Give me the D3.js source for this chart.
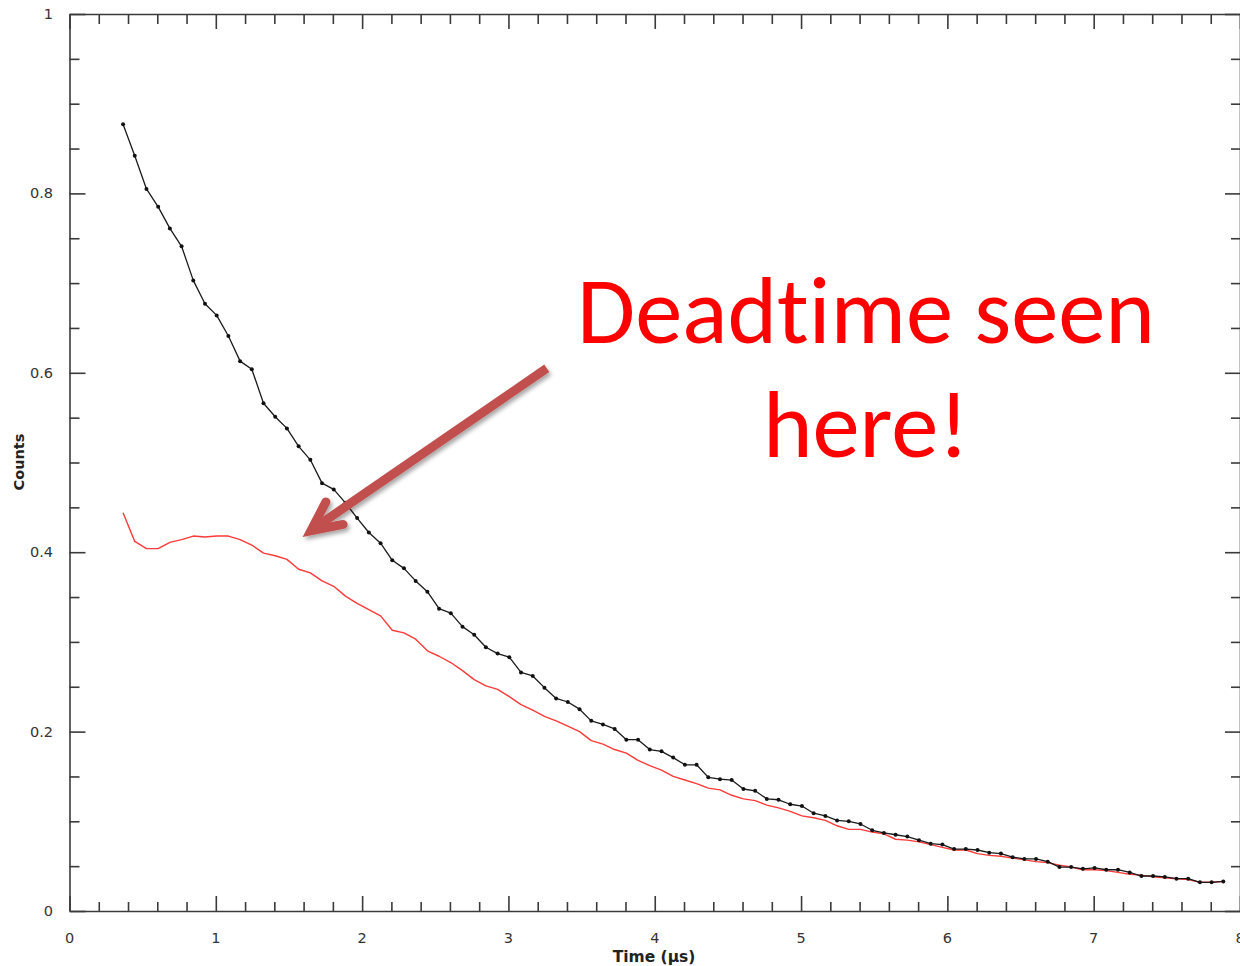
<!DOCTYPE html>
<html>
<head>
<meta charset="utf-8">
<script src="https://cdn.jsdelivr.net/npm/d3@7"></script>
<style>
  html, body { margin: 0; padding: 0; background: #fff; overflow: hidden; }
  svg { display: block; }
  text { font-variant-ligatures: none; font-feature-settings: "liga" 0, "clig" 0; }
</style>
</head>
<body>
<svg id="chart" width="1240" height="966"></svg>
<script>
// ---------------- DATA ----------------
const timeUs = [
  0.366, 0.446, 0.526, 0.606, 0.686, 0.766, 0.846, 0.926, 1.006, 1.086,
  1.166, 1.246, 1.326, 1.406, 1.486, 1.566, 1.646, 1.726, 1.806, 1.886,
  1.966, 2.046, 2.126, 2.206, 2.286, 2.366, 2.446, 2.526, 2.606, 2.686,
  2.766, 2.846, 2.926, 3.006, 3.086, 3.166, 3.246, 3.326, 3.406, 3.486,
  3.566, 3.646, 3.726, 3.806, 3.886, 3.966, 4.046, 4.126, 4.206, 4.286,
  4.366, 4.446, 4.526, 4.606, 4.686, 4.766, 4.846, 4.926, 5.006, 5.086,
  5.166, 5.246, 5.326, 5.406, 5.486, 5.566, 5.646, 5.726, 5.806, 5.886,
  5.966, 6.046, 6.126, 6.206, 6.286, 6.366, 6.446, 6.526, 6.606, 6.686,
  6.766, 6.846, 6.926, 7.006, 7.086, 7.166, 7.246, 7.326, 7.406, 7.486,
  7.566, 7.646, 7.726, 7.806, 7.886
];

// measured (black, with markers)
const countsTrue = [
  0.877, 0.842, 0.805, 0.785, 0.761, 0.741, 0.703, 0.677, 0.664, 0.641,
  0.613, 0.604, 0.566, 0.551, 0.538, 0.518, 0.503, 0.477, 0.470, 0.455,
  0.438, 0.422, 0.410, 0.391, 0.382, 0.368, 0.356, 0.337, 0.332, 0.317,
  0.308, 0.294, 0.287, 0.283, 0.266, 0.262, 0.249, 0.237, 0.233, 0.225,
  0.212, 0.208, 0.203, 0.191, 0.191, 0.180, 0.178, 0.171, 0.163, 0.163,
  0.149, 0.147, 0.146, 0.136, 0.134, 0.125, 0.124, 0.119, 0.117, 0.109,
  0.106, 0.101, 0.100, 0.097, 0.090, 0.087, 0.085, 0.083, 0.079, 0.075,
  0.074, 0.069, 0.069, 0.068, 0.065, 0.064, 0.060, 0.058, 0.058, 0.055,
  0.049, 0.049, 0.047, 0.048, 0.046, 0.046, 0.043, 0.039, 0.039, 0.038,
  0.036, 0.036, 0.032, 0.032, 0.033
];

// deadtime-affected (red line)
const countsDeadtime = [
  0.444, 0.412, 0.404, 0.404, 0.411, 0.414, 0.418, 0.417, 0.418, 0.418,
  0.414, 0.408, 0.399, 0.396, 0.392, 0.381, 0.377, 0.368, 0.362, 0.351,
  0.343, 0.336, 0.329, 0.313, 0.310, 0.303, 0.290, 0.284, 0.277, 0.268,
  0.258, 0.251, 0.247, 0.239, 0.230, 0.224, 0.217, 0.212, 0.206, 0.200,
  0.190, 0.186, 0.180, 0.176, 0.168, 0.162, 0.157, 0.150, 0.146, 0.142,
  0.137, 0.135, 0.129, 0.125, 0.123, 0.118, 0.115, 0.111, 0.106, 0.104,
  0.101, 0.095, 0.091, 0.091, 0.088, 0.086, 0.080, 0.079, 0.077, 0.074,
  0.071, 0.068, 0.068, 0.064, 0.062, 0.061, 0.059, 0.057, 0.055, 0.054,
  0.051, 0.049, 0.046, 0.046, 0.045, 0.043, 0.041, 0.040, 0.038, 0.037,
  0.036, 0.035, 0.032, 0.032, 0.033
];

const xTickLabels = ["0", "1", "2", "3", "4", "5", "6", "7", "8"];
const yTickLabels = ["0", "0.2", "0.4", "0.6", "0.8", "1"];
const xAxisTitle = "Time (µs)";
const yAxisTitle = "Counts";
const annotationLines = ["Deadtime seen", "here!"];

// ---------------- LAYOUT ----------------
const svg = d3.select("#chart");
const L = 69.5, R = 1240, T = 14, B = 911;
const x = d3.scaleLinear().domain([0, 8]).range([L, R]);
const y = d3.scaleLinear().domain([0, 1]).range([B, T]);
const axisColor = "#3a3a3a";
const labelFont = "Tahoma, 'DejaVu Sans', Verdana, sans-serif";

const defs = svg.append("defs");
const f = defs.append("filter").attr("id", "shadow")
  .attr("x", "-20%").attr("y", "-20%").attr("width", "140%").attr("height", "140%");
f.append("feDropShadow").attr("dx", 2).attr("dy", 3).attr("stdDeviation", 2.2)
  .attr("flood-color", "#000").attr("flood-opacity", 0.35);

// ---------------- AXES ----------------
const xMinor = d3.range(0, 8.0001, 0.2).map(v => +v.toFixed(2));
const xMajor = d3.range(0, 9, 1);
const yMinor = d3.range(0, 1.0001, 0.05).map(v => +v.toFixed(2));
const yMajor = d3.range(0, 1.0001, 0.2).map(v => +v.toFixed(2));

function isMajorX(v) { return Math.abs(v - Math.round(v)) < 1e-6; }
function isMajorY(v) { return Math.abs(v / 0.2 - Math.round(v / 0.2)) < 1e-6; }

// bottom axis (ticks inward)
const xAxisBottom = d3.axisBottom(x).tickValues(xMinor)
  .tickSizeInner(0).tickSizeOuter(0).tickFormat("");
const gxb = svg.append("g").attr("transform", `translate(0,${B})`).call(xAxisBottom);
gxb.selectAll(".tick line").attr("y2", d => isMajorX(d) ? -15 : -9);

// top axis (ticks inward)
const xAxisTop = d3.axisTop(x).tickValues(xMinor)
  .tickSizeInner(0).tickSizeOuter(0).tickFormat("");
const gxt = svg.append("g").attr("transform", `translate(0,${T})`).call(xAxisTop);
gxt.selectAll(".tick line").attr("y2", d => isMajorX(d) ? 15 : 10);

// left axis
const yAxisLeft = d3.axisLeft(y).tickValues(yMinor)
  .tickSizeInner(0).tickSizeOuter(0).tickFormat("");
const gyl = svg.append("g").attr("transform", `translate(${L},0)`).call(yAxisLeft);
gyl.selectAll(".tick line").attr("x2", d => isMajorY(d) ? 16 : 10);

// right axis
const yAxisRight = d3.axisRight(y).tickValues(yMinor)
  .tickSizeInner(0).tickSizeOuter(0).tickFormat("");
const gyr = svg.append("g").attr("transform", `translate(${R},0)`).call(yAxisRight);
gyr.selectAll(".tick line").attr("x2", d => isMajorY(d) ? -15 : -9);

svg.selectAll(".domain, .tick line")
  .attr("stroke", axisColor).attr("stroke-width", 1.6);

// tick labels
svg.append("g").selectAll("text").data(xMajor).join("text")
  .attr("x", d => x(d)).attr("y", B + 32)
  .attr("text-anchor", "middle")
  .attr("font-family", labelFont).attr("font-size", 14.5).attr("fill", "#333")
  .text((d, i) => xTickLabels[i]);

svg.append("g").selectAll("text").data(yMajor).join("text")
  .attr("x", 53).attr("y", d => y(d) + 5)
  .attr("text-anchor", "end")
  .attr("font-family", labelFont).attr("font-size", 14.5).attr("fill", "#333")
  .text((d, i) => yTickLabels[i]);

// axis titles
svg.append("text")
  .attr("x", 654).attr("y", 962)
  .attr("text-anchor", "middle")
  .attr("font-family", labelFont).attr("font-size", 15.5).attr("font-weight", "bold")
  .attr("fill", "#222")
  .text(xAxisTitle);

svg.append("text")
  .attr("transform", `translate(24,462) rotate(-90)`)
  .attr("text-anchor", "middle")
  .attr("font-family", labelFont).attr("font-size", 14.5).attr("font-weight", "bold")
  .attr("fill", "#222")
  .text(yAxisTitle);

// ---------------- SERIES ----------------
const redData = timeUs.map((t, i) => [t, countsDeadtime[i]]);
const blackData = timeUs.map((t, i) => [t, countsTrue[i]]);
const line = d3.line().x(d => x(d[0])).y(d => y(d[1]));

svg.append("path").datum(redData)
  .attr("fill", "none").attr("stroke", "#ff3a3a").attr("stroke-width", 1.4)
  .attr("stroke-linejoin", "round")
  .attr("d", line);

svg.append("path").datum(blackData)
  .attr("fill", "none").attr("stroke", "#1a1a1a").attr("stroke-width", 1.3)
  .attr("stroke-linejoin", "round")
  .attr("d", line);

svg.append("g").selectAll("circle").data(blackData).join("circle")
  .attr("cx", d => x(d[0])).attr("cy", d => y(d[1]))
  .attr("r", 2).attr("fill", "#111");

// ---------------- ANNOTATION ----------------
const arrowTail = [3.262, 0.605];
const arrowTip = [1.650, 0.424];
const wingA = [1.752, 0.456];
const wingB = [1.870, 0.431];
const arrowColor = "#c0504d";
const ga = svg.append("g").attr("filter", "url(#shadow)");
ga.append("line")
  .attr("x1", x(arrowTail[0])).attr("y1", y(arrowTail[1]))
  .attr("x2", x(arrowTip[0]) + 4).attr("y2", y(arrowTip[1]) - 3)
  .attr("stroke", arrowColor).attr("stroke-width", 9);
ga.append("path")
  .attr("d", `M${x(wingA[0])},${y(wingA[1])} L${x(arrowTip[0])},${y(arrowTip[1])} L${x(wingB[0])},${y(wingB[1])}`)
  .attr("fill", "none").attr("stroke", arrowColor).attr("stroke-width", 9)
  .attr("stroke-linejoin", "miter").attr("stroke-linecap", "round");

const annFont = "Carlito, Calibri, Lato, 'Open Sans', sans-serif";
const t1 = svg.append("text")
  .attr("x", 866).attr("y", 343)
  .attr("text-anchor", "middle")
  .attr("font-family", annFont).attr("font-size", 84).attr("fill", "#ff0000")
  .text(annotationLines[0]);
// fit width of first line to ~578px
const w1 = t1.node().getComputedTextLength();
const fs = 84 * 578 / w1;
t1.attr("font-size", fs);
svg.append("text")
  .attr("x", 866).attr("y", 457)
  .attr("text-anchor", "middle")
  .attr("font-family", annFont).attr("font-size", fs).attr("fill", "#ff0000")
  .text(annotationLines[1]);
</script>
</body>
</html>
